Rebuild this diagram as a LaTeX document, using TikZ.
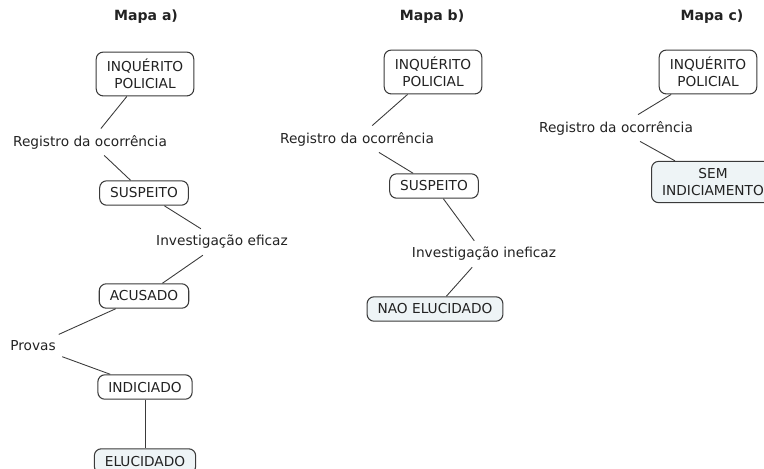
\documentclass[tikz,border=0pt]{standalone}
\usepackage{fontspec}
\setmainfont{DejaVu Sans}
\definecolor{corfinal}{HTML}{EEF4F6}
\definecolor{corlinha}{HTML}{3A3A3A}
\definecolor{cortexto}{HTML}{222222}

\begin{document}
\begin{tikzpicture}[x=0.02cm,y=-0.02cm,
		font=\fontsize{7.8}{9.6}\selectfont, text=cortexto,
		conceito/.style={draw=corlinha,line width=0.6pt,rounded corners=4pt,fill=white,align=center,inner xsep=6pt,inner ysep=4pt},
		final/.style={conceito,fill=corfinal},
		frase/.style={inner sep=3.5pt},
		titulo/.style={font=\fontsize{8}{10}\selectfont\bfseries},
		liga/.style={draw=corlinha,line width=0.5pt}]
			\clip (0,0) rectangle (764,468);
			% Mapa a)
			\node[titulo] (ta) at (146,17) {Mapa a)};
			\node[conceito] (iqa) at (145,74) {INQUÉRITO\\POLICIAL};
			\node[frase] (rga) at (90,142) {Registro da ocorrência};
			\node[conceito] (spa) at (144,193) {SUSPEITO};
			\node[frase] (iva) at (222,242) {Investigação eficaz};
			\node[conceito] (aca) at (144,296) {ACUSADO};
			\node[frase] (pva) at (33,346) {Provas};
			\node[conceito] (ina) at (145,387) {INDICIADO};
			\node[final] (ela) at (145,461) {ELUCIDADO};
			\draw[liga] (iqa) -- (rga);
			\draw[liga] (rga) -- (spa);
			\draw[liga] (spa) -- (iva);
			\draw[liga] (iva) -- (aca);
			\draw[liga] (aca) -- (pva);
			\draw[liga] (pva) -- (ina);
			\draw[liga] (ina) -- (ela);
			% Mapa b)
			\node[titulo] (tb) at (432,17) {Mapa b)};
			\node[conceito] (iqb) at (433,72) {INQUÉRITO\\POLICIAL};
			\node[frase] (rgb) at (357,139) {Registro da ocorrência};
			\node[conceito] (spb) at (434,186) {SUSPEITO};
			\node[frase] (ivb) at (484,254) {Investigação ineficaz};
			\node[final] (neb) at (435,309) {NAO ELUCIDADO};
			\draw[liga] (iqb) -- (rgb);
			\draw[liga] (rgb) -- (spb);
			\draw[liga] (spb) -- (ivb);
			\draw[liga] (ivb) -- (neb);
			% Mapa c)
			\node[titulo] (tc) at (712,17) {Mapa c)};
			\node[conceito] (iqc) at (708,72) {INQUÉRITO\\POLICIAL};
			\node[frase] (rgc) at (616,128) {Registro da ocorrência};
			\node[final] (sic) at (713,182) {SEM\\INDICIAMENTO};
			\draw[liga] (iqc) -- (rgc);
			\draw[liga] (rgc) -- (sic);
\end{tikzpicture}
\end{document}
